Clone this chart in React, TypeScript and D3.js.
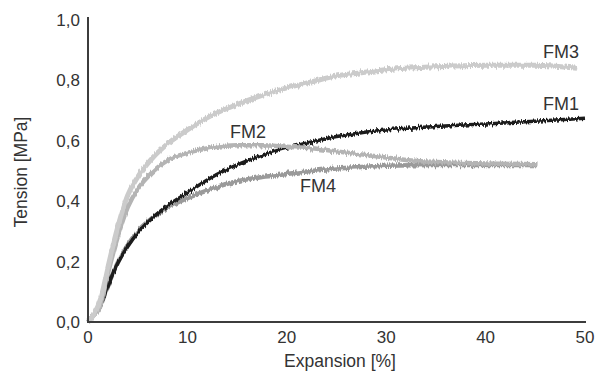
import * as d3 from "d3";

// expansion [%] / tension [MPa]
const fm1X = [0, 0.5, 1.2, 2, 3, 4, 5, 6.5, 8, 10, 12.5, 15, 17.5, 20, 22.5, 25, 27.5, 30, 35, 40, 45, 50];
const fm1Y = [0, 0.02, 0.05, 0.12, 0.195, 0.25, 0.295, 0.345, 0.385, 0.428, 0.48, 0.52, 0.552, 0.576, 0.596, 0.614, 0.627, 0.636, 0.647, 0.656, 0.665, 0.675];

const fm2X = [0, 0.5, 1.2, 2, 2.8, 4, 5, 6, 8, 10, 12.5, 15, 17.5, 20, 22.5, 25, 27.5, 30, 32.5, 35, 40, 45.2];
const fm2Y = [0, 0.02, 0.05, 0.16, 0.26, 0.38, 0.44, 0.48, 0.535, 0.56, 0.578, 0.585, 0.585, 0.58, 0.575, 0.565, 0.555, 0.545, 0.535, 0.53, 0.525, 0.522];

const fm3X = [0, 0.5, 1.3, 2, 2.8, 4, 5, 6.6, 8, 10, 12.5, 15, 17.5, 20, 22.5, 25, 27.5, 30, 35, 40, 45, 49.2];
const fm3Y = [0, 0.02, 0.08, 0.18, 0.29, 0.42, 0.48, 0.547, 0.59, 0.636, 0.685, 0.72, 0.75, 0.775, 0.795, 0.815, 0.825, 0.835, 0.845, 0.85, 0.85, 0.84];

const fm4X = [0, 0.5, 1.2, 2, 3, 4, 5, 6.5, 8, 10, 12.5, 15, 17.5, 20, 22.5, 25, 27.5, 30, 35, 40, 45.2];
const fm4Y = [0, 0.02, 0.05, 0.12, 0.197, 0.255, 0.3, 0.345, 0.378, 0.41, 0.442, 0.466, 0.48, 0.49, 0.5, 0.508, 0.513, 0.517, 0.52, 0.52, 0.52];

const xTicks = [0, 10, 20, 30, 40, 50];
const yTicks = [0, 0.2, 0.4, 0.6, 0.8, 1.0];

const series = [
  { name: "FM4", xs: fm4X, ys: fm4Y, color: "#9a9a9a", width: 4.5, lx: 318, ly: 192 },
  { name: "FM1", xs: fm1X, ys: fm1Y, color: "#1c1c1c", width: 3.5, lx: 561, ly: 110 },
  { name: "FM2", xs: fm2X, ys: fm2Y, color: "#b4b4b4", width: 4.5, lx: 248, ly: 138 },
  { name: "FM3", xs: fm3X, ys: fm3Y, color: "#cbcbcb", width: 5, lx: 561, ly: 58 },
];

const W = 596;
const H = 372;
const font = "'Liberation Sans', Arial, sans-serif";

export default function App() {
  const x = d3.scaleLinear().domain([0, 50]).range([88, 585]);
  const y = d3.scaleLinear().domain([0, 1]).range([322, 20]);

  const line = d3
    .line<[number, number]>()
    .x((d) => x(d[0]))
    .y((d) => y(d[1]))
    .curve(d3.curveMonotoneX);

  const fmt = (v: number) => v.toFixed(1).replace(".", ",");

  return (
    <svg
      width={W}
      height={H}
      style={{ position: "absolute", left: 0, top: 0, background: "#fff" }}
      fontFamily={font}
    >
      <defs>
        {/* vertical-only jitter so the traces look like raw measurements */}
        <filter id="rough" filterUnits="userSpaceOnUse" x={0} y={0} width={W} height={H}>
          <feTurbulence type="fractalNoise" baseFrequency="0.8 0.05" numOctaves="2" seed="5" result="n" />
          <feColorMatrix
            in="n"
            type="matrix"
            values="0 0 0 0 0.5  0 1 0 0 0  0 0 0 0 0  0 0 0 0 1"
            result="m"
          />
          <feDisplacementMap in="SourceGraphic" in2="m" scale="6" xChannelSelector="R" yChannelSelector="G" />
        </filter>
      </defs>

      {series.map((s) => (
        <path
          key={s.name}
          d={line(s.xs.map((v, i) => [v, s.ys[i]] as [number, number])) ?? ""}
          fill="none"
          stroke={s.color}
          strokeWidth={s.width}
          strokeLinejoin="round"
          filter="url(#rough)"
        />
      ))}

      {/* axes */}
      <line x1={x(0)} x2={x(0)} y1={17} y2={y(0)} stroke="#3c3c3c" strokeWidth={2} />
      <line x1={x(0) - 1} x2={586} y1={y(0)} y2={y(0)} stroke="#3c3c3c" strokeWidth={2} />

      {xTicks.map((t) => (
        <text key={t} x={x(t)} y={343} textAnchor="middle" fontSize={17} fill="#333">
          {t}
        </text>
      ))}
      {yTicks.map((t) => (
        <text key={t} x={80} y={y(t) + 6} textAnchor="end" fontSize={17} fill="#333">
          {fmt(t)}
        </text>
      ))}

      <text x={340} y={367} textAnchor="middle" fontSize={17.5} fill="#333">
        Expansion [%]
      </text>
      <text
        transform={`translate(27,172) rotate(-90)`}
        textAnchor="middle"
        fontSize={17.5}
        fill="#333"
      >
        Tension [MPa]
      </text>

      {series.map((s) => (
        <text key={s.name + "l"} x={s.lx} y={s.ly} textAnchor="middle" fontSize={18} fill="#333">
          {s.name}
        </text>
      ))}
    </svg>
  );
}
